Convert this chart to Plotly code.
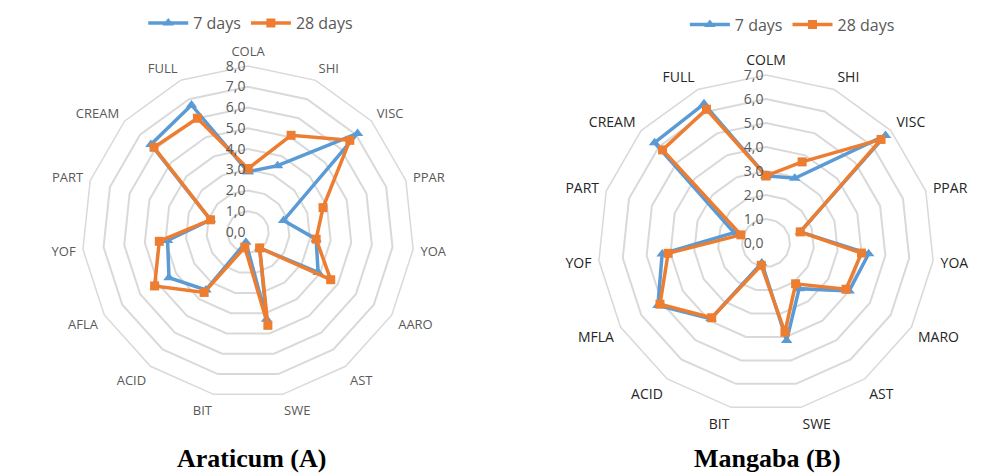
import plotly.graph_objects as go

cats_a = ["COLA", "SHI", "VISC", "PPAR", "YOA", "AARO", "AST", "SWE", "BIT",
          "ACID", "AFLA", "YOF", "PART", "CREAM", "FULL"]
a_7 = [2.9, 3.5, 7.1, 1.8, 3.3, 3.9, 0.95, 4.3, 0.5, 3.45, 4.4, 3.9, 1.9, 6.3, 6.7]
a_28 = [3.05, 5.1, 6.6, 3.8, 3.3, 4.6, 0.95, 4.6, 0.75, 3.6, 5.2, 4.3, 1.9, 6.1, 6.0]

cats_b = ["COLM", "SHI", "VISC", "PPAR", "YOA", "MARO", "AST", "SWE", "BIT",
          "ACID", "MFLA", "YOF", "PART", "CREAM", "FULL"]
b_7 = [2.8, 2.95, 6.7, 1.5, 4.3, 4.0, 2.35, 4.15, 0.85, 3.9, 5.2, 4.35, 1.4, 6.25, 6.35]
b_28 = [2.8, 3.7, 6.45, 1.5, 4.0, 3.85, 2.1, 3.8, 0.95, 3.85, 5.1, 4.1, 1.1, 5.8, 6.1]

series_names = ["7 days", "28 days"]
titles = ["Araticum (A)", "Mangaba (B)"]

BLUE = "#5B9BD5"
ORANGE = "#ED7D31"
GRID = "#D9D9D9"

def closed(v):
    return list(v) + [v[0]]

fig = go.Figure()
for polar, legend, cats, s7, s28 in [("polar", "legend", cats_a, a_7, a_28),
                                      ("polar2", "legend2", cats_b, b_7, b_28)]:
    fig.add_trace(go.Scatterpolar(
        r=closed(s7), theta=closed(cats), name=series_names[0], subplot=polar,
        legend=legend, mode="lines+markers",
        line=dict(color=BLUE, width=3.5),
        marker=dict(symbol="triangle-up", size=10, color=BLUE)))
    fig.add_trace(go.Scatterpolar(
        r=closed(s28), theta=closed(cats), name=series_names[1], subplot=polar,
        legend=legend, mode="lines+markers",
        line=dict(color=ORANGE, width=3.5),
        marker=dict(symbol="square", size=9, color=ORANGE)))

def polar_cfg(xd, yd, rmax, labcolor, labsize):
    return dict(
        domain=dict(x=xd, y=yd),
        gridshape="linear",
        bgcolor="white",
        radialaxis=dict(range=[0, rmax], dtick=1, tickformat=".1f", angle=90,
                        tickangle=90, side="counterclockwise",
                        showline=False, gridcolor=GRID, gridwidth=1.5,
                        ticks="", tickfont=dict(family="Open Sans", size=14, color="#595959")),
        angularaxis=dict(direction="clockwise", rotation=90, showgrid=False,
                         showline=True, linecolor=GRID, linewidth=1.5,
                         ticks="outside", ticklen=4, tickcolor="rgba(0,0,0,0)",
                         tickfont=dict(family="Open Sans", size=labsize, color=labcolor)),
    )

fig.update_layout(
    width=1003, height=475,
    margin=dict(l=0, r=0, t=0, b=0),
    paper_bgcolor="white",
    separators=",.",
    polar=polar_cfg([0.0818, 0.4128], [0.1621, 0.8611], 8, "#595959", 13),
    polar2=polar_cfg([0.5962, 0.9312], [0.1347, 0.8421], 7, "#262626", 14),
    legend=dict(orientation="h", x=0.25, y=0.987, xanchor="center", yanchor="top",
                font=dict(family="Open Sans", size=16, color="#595959"), itemwidth=40),
    legend2=dict(orientation="h", x=0.79, y=0.984, xanchor="center", yanchor="top",
                 font=dict(family="Open Sans", size=16, color="#595959"), itemwidth=40),
    annotations=[
        dict(text="<b>" + titles[0] + "</b>", x=0.251, y=0.0, xref="paper", yref="paper",
             xanchor="center", yanchor="bottom",
             showarrow=False, font=dict(family="Liberation Serif", size=26, color="black")),
        dict(text="<b>" + titles[1] + "</b>", x=0.765, y=0.0, xref="paper", yref="paper",
             xanchor="center", yanchor="bottom",
             showarrow=False, font=dict(family="Liberation Serif", size=26, color="black")),
    ],
)

fig.write_html("out.html", config={"displayModeBar": False},
               post_script="document.body.style.margin='0';")
